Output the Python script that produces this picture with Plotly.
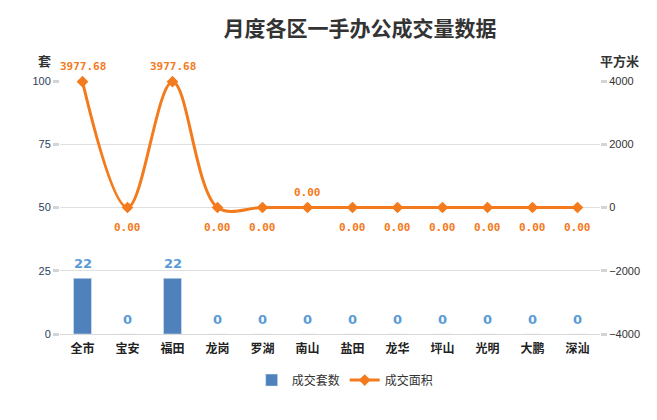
import plotly.graph_objects as go

districts = ["全市", "宝安", "福田", "龙岗", "罗湖", "南山", "盐田", "龙华", "坪山", "光明", "大鹏", "深汕"]
units = [22, 0, 22, 0, 0, 0, 0, 0, 0, 0, 0, 0]
area = [3977.68, 0, 3977.68, 0, 0, 0, 0, 0, 0, 0, 0, 0]
left_ticks = [0, 25, 50, 75, 100]
right_ticks = [-4000, -2000, 0, 2000, 4000]

cjk = "Noto Sans CJK SC"
blue = "#4F81BD"
orange = "#F37B1D"

# line labels go above the peaks and below the zeros (南山 sits above)
area_up = [True, False, True] + [False] * 9
area_up[5] = True

fig = go.Figure()
fig.add_trace(go.Bar(
    x=districts, y=units, name="成交套数",
    marker_color=blue, width=0.4,
))
fig.add_trace(go.Scatter(
    x=districts, y=area, name="成交面积", yaxis="y2",
    mode="lines+markers",
    line=dict(color=orange, width=3, shape="spline", smoothing=1),
    marker=dict(symbol="diamond", size=9, color=orange),
    cliponaxis=False,
))

for d, v in zip(districts, units):
    fig.add_annotation(x=d, y=v, xref="x", yref="y", text="<b>%d</b>" % v,
                       showarrow=False, yshift=15,
                       font=dict(color="#5B9BD5", size=13, family="DejaVu Sans"))

for d, v, up in zip(districts, area, area_up):
    fig.add_annotation(x=d, y=v, xref="x", yref="y2", text="<b>%.2f</b>" % v,
                       showarrow=False, yshift=15 if up else -20,
                       font=dict(color=orange, size=11, family="DejaVu Sans Mono"))

# page body has an 8px margin, so the figure is a bit smaller than the window
fig.update_layout(
    width=641, height=404,
    margin=dict(l=52, r=49, t=73, b=78),
    plot_bgcolor="white", paper_bgcolor="white",
    font=dict(family=cjk, size=11, color="#333333"),
    title=dict(text="<b>月度各区一手办公成交量数据</b>", x=0.549, xanchor="center",
               y=0.950, yref="container", yanchor="middle",
               font=dict(size=21, color="#333333", family=cjk)),
    xaxis=dict(
        range=[-0.5, 11.5], ticklabelstandoff=6,
        tickfont=dict(size=12, color="#222222", family=cjk, weight="bold"),
        showgrid=False, showline=False, ticks="", automargin=False,
    ),
    yaxis=dict(
        range=[0, 100], tickvals=left_ticks, automargin=False,
        gridcolor="#e0e0e0", gridwidth=1,
        zeroline=True, zerolinecolor="#d9d9d9", zerolinewidth=1,
        ticks="outside", ticklen=6, tickwidth=3, tickcolor="#d4d4d4",
        tickfont=dict(size=11, color="#2c3e5a", family="Liberation Sans"),
    ),
    yaxis2=dict(
        range=[-4000, 4000], tickvals=right_ticks, overlaying="y", side="right",
        showgrid=False, zeroline=False, automargin=False,
        ticks="outside", ticklen=6, tickwidth=3, tickcolor="#d4d4d4",
        tickfont=dict(size=11, color="#333333", family="Liberation Sans"),
    ),
    legend=dict(
        orientation="h", x=0.526, xanchor="center", xref="container",
        y=0.079, yanchor="middle", yref="container",
        font=dict(size=12, color="#333333", family=cjk),
        bgcolor="rgba(255,255,255,0)",
    ),
    showlegend=True,
)

fig.add_annotation(text="<b>套</b>", xref="paper", yref="paper", x=-0.028, y=1.083,
                   xanchor="center", yanchor="middle", showarrow=False,
                   font=dict(size=13, color="#333333", family=cjk))
fig.add_annotation(text="<b>平方米</b>", xref="paper", yref="paper", x=1.037, y=1.083,
                   xanchor="center", yanchor="middle", showarrow=False,
                   font=dict(size=13, color="#333333", family=cjk))

fig.write_html("out.html")
